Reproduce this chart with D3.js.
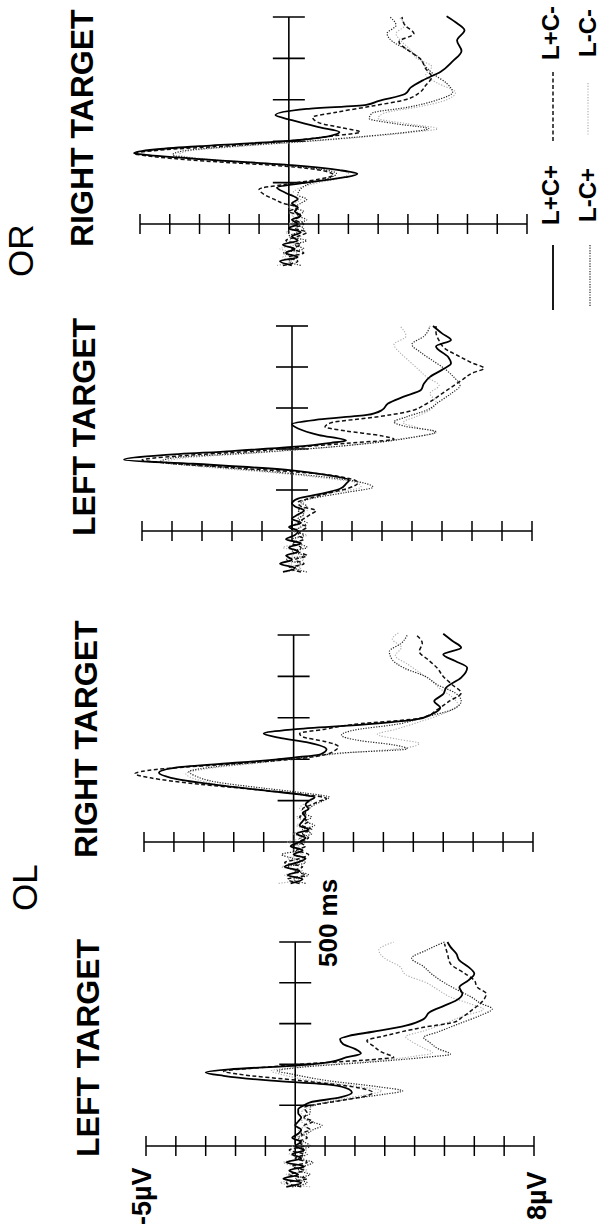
<!DOCTYPE html>
<html>
<head>
<meta charset="utf-8">
<script src="https://cdn.jsdelivr.net/npm/d3@7"></script>
<style>
  body { margin: 0; background: #fff; }
  svg { display: block; }
</style>
</head>
<body>
<svg id="chart" width="602" height="1230"></svg>
<script>
// Axis values
const voltTicks = [-5, -4, -3, -2, -1, 0, 1, 2, 3, 4, 5, 6, 7, 8];
const timeTicks = [100, 200, 300, 400, 500];
const conditions = ["L+C+", "L+C-", "L-C+", "L-C-"];

// ERP traces, [ms, µV]
// OL - left target
const olLeft_LpCp = [[-100,-0.3],[-90,0.2],[-80,-0.4],[-70,0.1],[-60,-0.2],[-50,0.3],[-40,-0.3],[-30,0.2],[-20,-0.1],[-10,0.3],[0,0.0],[10,0.2],[20,-0.1],[30,0.1],[40,0.2],[50,0.0],[60,0.1],[70,0.2],[80,0.1],[90,0.1],[100,0.3],[107,0.5],[119,1.5],[131,1.9],[139,1.8],[150,1.2],[160,-0.8],[172,-2.4],[180,-3.0],[188,-2.2],[197,0.0],[205,1.1],[217,1.7],[227,2.2],[238,2.0],[250,1.6],[262,1.5],[270,1.8],[280,2.6],[295,3.7],[311,4.3],[328,4.5],[344,5.0],[357,5.4],[373,5.6],[389,5.5],[406,5.8],[422,6.0],[439,5.8],[455,5.5],[471,5.4],[488,5.2],[500,5.1]];
const olLeft_LpCm = [[-100,0.2],[-90,-0.3],[-80,0.4],[-70,-0.2],[-60,0.3],[-50,-0.1],[-40,0.4],[-30,0.0],[-20,0.3],[-10,-0.2],[0,0.3],[10,0.1],[20,0.4],[30,0.2],[40,0.5],[50,0.3],[60,0.6],[70,0.3],[80,0.4],[94,0.3],[111,1.5],[123,2.4],[131,2.6],[143,2.1],[160,0.2],[176,-1.9],[183,-2.4],[193,-1.0],[202,0.5],[213,2.8],[217,3.3],[230,2.9],[246,2.6],[258,2.4],[270,3.0],[291,4.3],[303,5.3],[316,5.6],[332,5.9],[357,6.3],[373,6.4],[389,6.1],[406,6.0],[422,5.7],[447,5.2],[471,5.1],[496,5.0]];
const olLeft_LmCp = [[-100,-0.1],[-90,0.4],[-80,0.0],[-70,0.5],[-60,0.1],[-50,0.3],[-40,0.6],[-30,0.1],[-20,0.4],[-10,0.2],[0,0.5],[10,0.3],[20,0.1],[30,0.4],[40,0.6],[50,0.9],[60,0.5],[70,0.3],[80,0.5],[94,0.5],[115,1.8],[127,3.0],[135,3.6],[145,2.8],[160,1.1],[176,-0.1],[184,-0.6],[193,0.2],[205,2.4],[217,4.3],[225,5.2],[238,4.8],[254,4.5],[266,4.3],[280,4.8],[300,5.5],[320,6.2],[336,6.6],[350,6.2],[365,5.9],[380,5.5],[400,5.0],[420,4.6],[440,4.3],[460,3.9],[480,4.4],[500,5.0]];
const olLeft_LmCm = [[-100,0.5],[-90,-0.5],[-80,0.3],[-70,-0.3],[-60,0.4],[-50,0.0],[-40,-0.4],[-30,0.3],[-20,-0.2],[-10,0.4],[0,-0.1],[10,0.3],[20,0.0],[30,0.3],[40,0.1],[50,0.4],[60,0.2],[70,0.3],[80,0.2],[94,0.4],[115,1.5],[127,2.5],[135,2.9],[145,2.2],[160,0.6],[176,-0.5],[184,-0.8],[195,0.3],[208,2.6],[220,4.0],[228,4.6],[240,4.3],[256,3.9],[268,3.7],[282,4.3],[300,5.0],[318,5.6],[335,6.3],[350,5.8],[365,5.2],[382,4.8],[400,4.4],[420,3.7],[440,3.5],[460,3.0],[480,2.8],[500,3.3]];

// OL - right target
const olRight_LpCp = [[-100,-0.1],[-90,0.3],[-80,-0.2],[-70,0.2],[-60,-0.3],[-50,0.1],[-40,0.4],[-30,0.0],[-20,0.3],[-10,-0.1],[0,0.2],[10,0.4],[20,0.1],[30,0.5],[40,0.2],[50,0.3],[60,0.4],[70,0.3],[80,0.5],[90,0.4],[99,0.5],[108,0.7],[115,0.2],[123,-0.8],[139,-2.7],[155,-4.1],[167,-4.5],[180,-3.9],[192,-1.8],[204,0.0],[212,0.9],[224,1.1],[240,0.5],[252,-0.5],[262,-1.0],[272,0.0],[284,2.4],[296,4.1],[308,4.6],[324,4.9],[340,4.7],[357,5.0],[373,5.1],[397,5.6],[421,5.8],[437,5.4],[453,5.0],[469,5.6],[486,5.3],[503,5.0]];
const olRight_LpCm = [[-100,0.2],[-90,-0.2],[-80,0.4],[-70,0.0],[-60,0.3],[-50,-0.3],[-40,0.2],[-30,0.5],[-20,0.1],[-10,0.4],[0,0.2],[10,0.5],[20,0.3],[30,0.6],[40,0.3],[50,0.5],[60,0.2],[70,0.4],[80,0.3],[90,0.6],[100,0.9],[105,1.1],[115,0.3],[125,-1.0],[140,-3.2],[155,-4.8],[165,-5.3],[175,-4.6],[188,-2.2],[200,0.0],[210,1.0],[222,1.4],[230,1.5],[242,1.1],[254,0.3],[262,0.2],[272,1.0],[284,2.0],[300,4.3],[320,4.8],[340,5.2],[360,5.6],[380,5.3],[400,5.0],[420,4.8],[440,4.5],[460,4.2],[480,4.3],[500,4.1]];
const olRight_LmCp = [[-100,0.4],[-90,0.0],[-80,0.5],[-70,0.1],[-60,-0.2],[-50,0.4],[-40,0.0],[-30,-0.4],[-20,0.2],[-10,0.0],[0,0.4],[10,0.2],[20,0.6],[30,0.3],[40,0.7],[50,0.4],[60,0.6],[70,0.3],[80,0.5],[90,0.7],[100,1.0],[108,1.2],[118,0.4],[130,-1.0],[145,-2.6],[160,-3.3],[170,-3.5],[182,-2.6],[195,-0.8],[207,0.6],[215,1.6],[225,3.8],[235,3.3],[245,2.2],[258,1.6],[270,2.0],[285,3.5],[300,4.3],[320,5.3],[340,5.6],[360,5.4],[380,4.8],[400,4.4],[420,3.7],[440,3.3],[460,3.2],[480,3.6],[500,3.8]];
const olRight_LmCm = [[-100,-0.5],[-90,0.2],[-80,-0.3],[-70,0.3],[-60,-0.4],[-50,0.2],[-40,-0.2],[-30,0.3],[-20,0.0],[-10,0.2],[0,-0.2],[10,0.3],[20,0.0],[30,0.4],[40,0.1],[50,0.3],[60,0.1],[70,0.4],[80,0.2],[90,0.3],[100,0.6],[110,0.5],[120,-0.5],[135,-2.2],[150,-3.2],[165,-3.6],[178,-2.8],[192,-1.0],[205,0.5],[215,1.8],[228,3.8],[238,4.2],[248,3.5],[260,2.8],[272,3.4],[290,4.2],[310,5.0],[330,5.5],[350,5.3],[370,4.9],[390,4.6],[410,4.2],[430,3.8],[450,3.4],[470,3.6],[490,3.3],[505,3.5]];

// OR - left target
const orLeft_LpCp = [[-100,-0.3],[-90,0.1],[-80,-0.4],[-70,0.0],[-60,-0.2],[-50,0.2],[-40,-0.1],[-30,0.3],[-20,-0.2],[-10,0.1],[0,0.2],[10,-0.1],[20,0.3],[30,0.0],[40,0.2],[50,0.4],[60,0.1],[67,0.0],[79,0.2],[91,1.0],[103,1.6],[115,1.8],[124,1.9],[136,1.2],[148,0.0],[164,-3.3],[174,-5.6],[185,-4.3],[195,-2.0],[205,0.0],[215,1.3],[221,1.8],[234,0.9],[250,0.2],[261,0.0],[272,0.9],[283,2.5],[295,3.0],[311,3.2],[327,3.7],[344,4.3],[360,4.4],[376,4.6],[393,5.0],[409,5.3],[425,5.2],[450,4.8],[466,5.3],[482,5.0],[500,4.7]];
const orLeft_LpCm = [[-100,0.3],[-90,-0.1],[-80,0.4],[-70,0.1],[-60,0.5],[-50,0.2],[-40,0.3],[-30,0.0],[-20,0.4],[-10,0.2],[0,0.3],[10,0.5],[20,0.2],[30,0.4],[40,0.6],[50,0.8],[60,0.3],[70,0.2],[80,0.6],[92,1.2],[105,1.9],[118,2.2],[128,1.9],[140,0.8],[152,-1.5],[165,-4.0],[173,-5.0],[183,-3.8],[195,-1.2],[205,0.3],[214,1.8],[224,3.4],[232,3.0],[244,1.8],[254,1.1],[264,1.3],[278,2.8],[290,3.8],[311,4.5],[330,4.9],[350,5.3],[370,5.7],[385,6.0],[397,6.4],[410,6.0],[425,5.6],[445,5.1],[465,4.9],[485,4.8],[500,4.8]];
const orLeft_LmCp = [[-100,0.5],[-90,0.1],[-80,0.3],[-70,-0.2],[-60,0.4],[-50,0.0],[-40,0.5],[-30,0.2],[-20,0.0],[-10,0.4],[0,0.1],[10,0.3],[20,0.5],[30,0.2],[40,0.4],[50,0.2],[60,0.5],[70,0.3],[80,0.7],[94,1.8],[107,2.7],[117,2.4],[128,1.5],[142,-0.3],[156,-2.5],[168,-4.4],[178,-4.0],[190,-1.5],[202,0.8],[214,2.6],[228,4.0],[242,4.8],[255,3.8],[266,3.4],[278,3.8],[295,4.5],[315,4.9],[335,5.3],[355,5.6],[375,5.4],[395,5.1],[415,4.7],[435,4.3],[455,4.0],[475,4.4],[500,4.6]];
const orLeft_LmCm = [[-100,-0.2],[-90,0.3],[-80,-0.1],[-70,0.4],[-60,0.0],[-50,0.3],[-40,-0.3],[-30,0.2],[-20,0.1],[-10,0.5],[0,0.0],[10,0.3],[20,0.1],[30,0.4],[40,0.2],[50,0.5],[60,0.2],[70,0.4],[80,0.5],[94,1.4],[107,2.3],[117,2.2],[128,1.2],[142,-0.6],[156,-2.9],[168,-4.2],[178,-3.6],[190,-1.2],[202,0.9],[214,2.5],[228,3.9],[240,4.8],[252,4.2],[265,3.7],[278,4.1],[295,4.6],[315,4.8],[335,4.6],[355,4.9],[375,4.5],[395,4.2],[415,3.9],[435,3.6],[455,3.4],[475,3.8],[500,3.6]];

// OR - right target
const orRight_LpCp = [[-100,0.1],[-90,-0.3],[-80,0.3],[-70,-0.1],[-60,0.2],[-50,-0.2],[-40,0.3],[-30,0.1],[-20,0.4],[-10,0.0],[0,0.3],[10,0.1],[20,0.4],[30,0.2],[40,0.3],[50,0.1],[60,0.3],[75,-0.1],[88,-0.4],[100,0.6],[113,1.9],[121,2.3],[130,1.7],[142,0.1],[155,-2.6],[167,-4.8],[171,-5.2],[180,-4.5],[188,-3.0],[201,0.0],[213,1.4],[222,1.7],[234,1.0],[251,0.1],[263,-0.45],[278,0.6],[288,2.6],[297,3.0],[314,3.9],[330,4.1],[347,4.5],[368,5.1],[393,5.5],[418,5.8],[443,5.65],[468,5.9],[485,5.65],[502,5.3]];
const orRight_LpCm = [[-100,-0.2],[-90,0.3],[-80,0.0],[-70,0.5],[-60,0.1],[-50,0.4],[-40,-0.1],[-30,0.3],[-20,0.6],[-10,0.2],[0,0.5],[10,0.2],[20,0.4],[30,0.0],[40,0.3],[50,-0.2],[60,-0.5],[70,-0.8],[84,-1.0],[95,-0.2],[108,1.0],[118,1.5],[128,1.2],[140,-0.2],[152,-2.8],[165,-4.8],[170,-5.2],[178,-4.4],[190,-1.8],[202,0.2],[213,1.5],[222,2.4],[232,1.8],[245,1.0],[258,0.8],[270,1.6],[285,2.8],[300,3.9],[318,4.4],[335,4.6],[355,4.8],[375,4.6],[400,4.4],[420,4.0],[440,3.7],[460,4.2],[480,3.9],[500,3.8]];
const orRight_LmCp = [[-100,0.4],[-90,0.0],[-80,0.3],[-70,-0.2],[-60,0.5],[-50,0.2],[-40,0.6],[-30,0.0],[-20,0.3],[-10,0.5],[0,0.2],[10,0.6],[20,0.3],[30,0.5],[40,0.2],[50,0.4],[60,0.6],[70,0.3],[85,0.4],[100,0.8],[112,1.4],[122,1.6],[132,1.1],[144,-0.5],[156,-2.8],[167,-3.9],[176,-3.6],[188,-1.8],[200,0.6],[212,2.6],[222,4.0],[230,4.7],[242,3.6],[255,2.7],[268,2.8],[282,4.0],[300,5.0],[318,5.5],[340,5.3],[360,4.9],[380,4.6],[400,4.4],[420,4.0],[440,3.5],[460,3.3],[480,3.6],[500,3.4]];
const orRight_LmCm = [[-100,-0.4],[-90,0.1],[-80,-0.2],[-70,0.3],[-60,-0.3],[-50,0.2],[-40,0.0],[-30,0.4],[-20,-0.1],[-10,0.3],[0,0.0],[10,0.4],[20,0.1],[30,0.3],[40,0.0],[50,0.2],[60,0.4],[70,0.1],[85,0.3],[100,1.0],[112,1.8],[122,2.0],[132,1.5],[144,-0.3],[156,-2.6],[167,-3.7],[176,-3.4],[188,-1.5],[200,0.8],[212,2.8],[222,4.2],[230,5.0],[242,4.0],[255,3.0],[268,3.2],[282,4.3],[300,5.3],[318,5.6],[340,5.0],[360,4.6],[380,4.8],[400,4.3],[420,4.1],[440,3.8],[460,3.6],[480,3.9],[500,3.7]];

// panel layout, in page pixels (figure is printed rotated: time runs upward)
const panels = [
  { title: "LEFT TARGET",  traces: [olLeft_LpCp, olLeft_LpCm, olLeft_LmCp, olLeft_LmCm],
    vx: [146, 534], ty: [1146, 942], titleX: 99, titleY: 1157 },
  { title: "RIGHT TARGET", traces: [olRight_LpCp, olRight_LpCm, olRight_LmCp, olRight_LmCm],
    vx: [144, 533], ty: [842, 635], titleX: 97, titleY: 858 },
  { title: "LEFT TARGET",  traces: [orLeft_LpCp, orLeft_LpCm, orLeft_LmCp, orLeft_LmCm],
    vx: [142, 532], ty: [531, 326], titleX: 95, titleY: 536 },
  { title: "RIGHT TARGET", traces: [orRight_LpCp, orRight_LpCm, orRight_LmCp, orRight_LmCm],
    vx: [140, 527], ty: [224, 17], titleX: 93, titleY: 247 }
];

const styles = {
  "L+C+": { stroke: "#000", width: 1.8, dash: null },
  "L+C-": { stroke: "#111", width: 1.5, dash: "4,2.5" },
  "L-C+": { stroke: "#222", width: 1.2, dash: "1.2,1.4" },
  "L-C-": { stroke: "#aaa", width: 1.1, dash: "1.2,1.6" }
};

const font = "'Liberation Sans', Arial, Helvetica, sans-serif";
const svg = d3.select("#chart");
svg.append("rect").attr("width", 602).attr("height", 1230).attr("fill", "#fff");

// rotated text (reads bottom to top), x = baseline, y = start
function rText(x, y, str, size, weight) {
  return svg.append("text")
    .attr("transform", "translate(" + x + "," + y + ") rotate(-90)")
    .attr("font-family", font)
    .attr("font-size", size)
    .attr("font-weight", weight)
    .attr("fill", "#000")
    .text(str);
}

panels.forEach((p) => {
  const x = d3.scaleLinear().domain([-5, 8]).range(p.vx);
  const y = d3.scaleLinear().domain([0, 500]).range(p.ty);
  const g = svg.append("g");

  // voltage axis
  g.append("line")
    .attr("x1", x(-5)).attr("x2", x(8))
    .attr("y1", y(0)).attr("y2", y(0))
    .attr("stroke", "#000").attr("stroke-width", 1.6);
  g.selectAll(".vtick").data(voltTicks).enter().append("line")
    .attr("x1", (d) => x(d)).attr("x2", (d) => x(d))
    .attr("y1", y(0) - 10).attr("y2", y(0) + 10)
    .attr("stroke", "#000").attr("stroke-width", 1.5);

  // time axis
  g.append("line")
    .attr("x1", x(0)).attr("x2", x(0))
    .attr("y1", y(0)).attr("y2", y(500))
    .attr("stroke", "#000").attr("stroke-width", 1.6);
  g.selectAll(".ttick").data(timeTicks).enter().append("line")
    .attr("x1", x(0) - 16).attr("x2", x(0) + 16)
    .attr("y1", (d) => y(d)).attr("y2", (d) => y(d))
    .attr("stroke", "#000").attr("stroke-width", 1.6);

  // traces, lightest first so the solid one sits on top
  const line = d3.line()
    .x((d) => x(d[1]))
    .y((d) => y(d[0]))
    .curve(d3.curveMonotoneY);
  [3, 2, 1, 0].forEach((i) => {
    const s = styles[conditions[i]];
    g.append("path")
      .datum(p.traces[i])
      .attr("d", line)
      .attr("fill", "none")
      .attr("stroke", s.stroke)
      .attr("stroke-width", s.width)
      .attr("stroke-dasharray", s.dash)
      .attr("stroke-linejoin", "round");
  });

  rText(p.titleX, p.titleY, p.title, 32, "bold");
});

// group labels
rText(37, 911, "OL", 35, "normal");
rText(33, 277, "OR", 35, "normal");

// scale labels
rText(337, 967, "500 ms", 26, "bold");
rText(151, 1225, "-5\u00b5V", 27, "bold");
rText(546, 1220, "8\u00b5V", 27, "bold");

// legend
const legend = [
  { key: "L+C+", lx: 553, ly: [245, 310], tx: 559, ty: 225 },
  { key: "L+C-", lx: 553, ly: [72, 143],  tx: 559, ty: 60 },
  { key: "L-C+", lx: 590, ly: [245, 307], tx: 596, ty: 222 },
  { key: "L-C-", lx: 588, ly: [83, 135],  tx: 596, ty: 57 }
];
legend.forEach((l) => {
  const s = styles[l.key];
  svg.append("line")
    .attr("x1", l.lx).attr("x2", l.lx)
    .attr("y1", l.ly[0]).attr("y2", l.ly[1])
    .attr("stroke", s.stroke)
    .attr("stroke-width", s.width)
    .attr("stroke-dasharray", s.dash);
  rText(l.tx, l.ty, l.key, 24, "bold");
});
</script>
</body>
</html>
